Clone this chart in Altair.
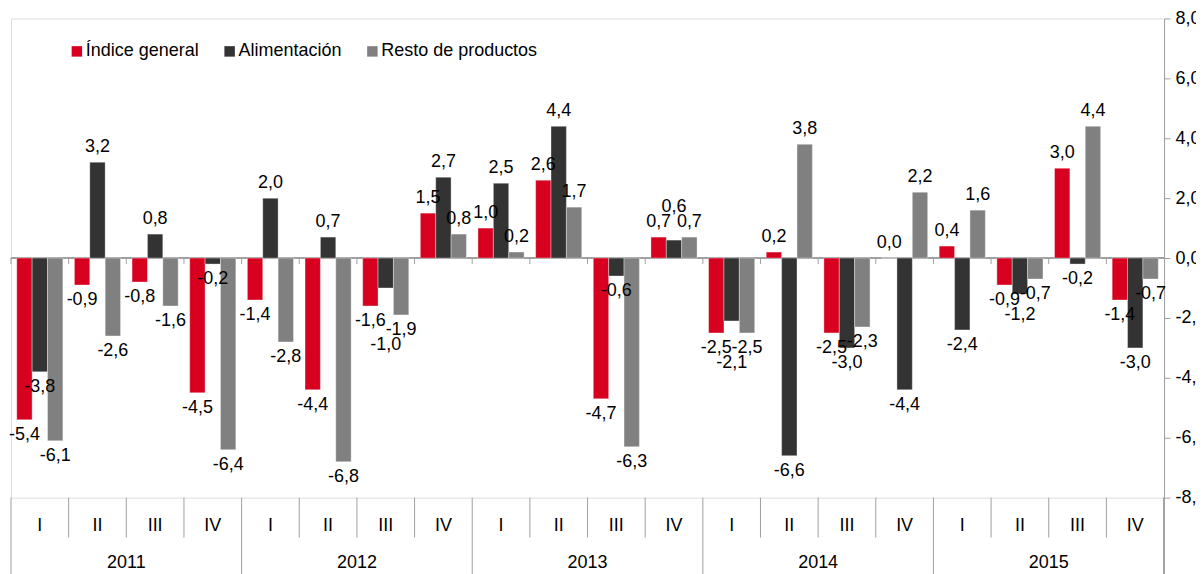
import altair as alt
import pandas as pd

# ---- data -----------------------------------------------------------------
years = ["2011", "2012", "2013", "2014", "2015"]
quarters = ["I", "II", "III", "IV"]
series = ["Índice general", "Alimentación", "Resto de productos"]
colors = ["#D7001E", "#333333", "#808080"]

indice_general = [-5.4, -0.9, -0.8, -4.5,
                  -1.4, -4.4, -1.6, 1.5,
                  1.0, 2.6, -4.7, 0.7,
                  -2.5, 0.2, -2.5, 0.0,
                  0.4, -0.9, 3.0, -1.4]
alimentacion = [-3.8, 3.2, 0.8, -0.2,
                2.0, 0.7, -1.0, 2.7,
                2.5, 4.4, -0.6, 0.6,
                -2.1, -6.6, -3.0, -4.4,
                -2.4, -1.2, -0.2, -3.0]
resto = [-6.1, -2.6, -1.6, -6.4,
         -2.8, -6.8, -1.9, 0.8,
         0.2, 1.7, -6.3, 0.7,
         -2.5, 3.8, -2.3, 2.2,
         1.6, -0.7, 4.4, -0.7]
y_ticks = [-8, -6, -4, -2, 0, 2, 4, 6, 8]

# ---- tables ---------------------------------------------------------------
qids = [f"{y}-{q}" for y in years for q in quarters]
rows = []
for i, qid in enumerate(qids):
    r, a, g = indice_general[i], alimentacion[i], resto[i]
    for s, v in zip(series, [r, a, g]):
        ly = v
        # keep the middle label clear of its neighbours' labels when they are close
        if s == series[1]:
            near = [n for n in (r, g) if abs(n - v) < 1.0 and (n < 0) == (v < 0)]
            if near:
                ly = min([v] + [n - 0.5 for n in near]) if v < 0 else max([v] + [n + 0.5 for n in near])
        rows.append({"qid": qid, "serie": s, "v": v, "ly": ly})
df = pd.DataFrame(rows)

qdf = pd.DataFrame({
    "qid": qids,
    "q": [q for _ in years for q in quarters],
    "ystart": [q == "I" for _ in years for q in quarters],
})
ydf = pd.DataFrame({"year": years, "mid": [f"{y}-III" for y in years]})

FONT = "Liberation Sans"
FS = 18
LINE = "#A0A0A0"
W, H = 1155, 480

xscale = alt.Scale(domain=qids, paddingInner=0, paddingOuter=0)
yscale = alt.Scale(domain=[-8, 8], nice=False)
lab_expr = "(datum.v < 0 ? '-' : '') + replace(format(abs(datum.v), '.1f'), '.', ',')"

x_enc = alt.X("qid:N", scale=xscale, axis=None)
xoff = alt.XOffset("serie:N", scale=alt.Scale(domain=series, paddingInner=0, paddingOuter=0.375))

zero_line = alt.Chart(df).mark_rule(color=LINE, strokeWidth=1).encode(y=alt.datum(0, scale=yscale))

zero_ticks = alt.Chart(qdf).mark_rule(color=LINE, strokeWidth=1).encode(
    x=alt.X("qid:N", scale=xscale, axis=None, bandPosition=0),
    y=alt.datum(0, scale=yscale),
    y2=alt.value(H / 2 + 6),
)

bars = alt.Chart(df).mark_bar(stroke="#FFFFFF", strokeWidth=0.6, strokeOpacity=0.6).encode(
    x=x_enc,
    xOffset=xoff,
    y=alt.Y("v:Q", scale=yscale,
            axis=alt.Axis(orient="right", values=y_ticks, title=None, grid=False,
                          domainColor=LINE, tickColor=LINE, tickSize=6, labelPadding=5,
                          labelFont=FONT, labelFontSize=FS, labelColor="#000000",
                          labelExpr="(datum.value < 0 ? '-' : '') + replace(format(abs(datum.value), '.1f'), '.', ',')")),
    color=alt.Color("serie:N", scale=alt.Scale(domain=series, range=colors),
                    legend=alt.Legend(orient="none", legendX=57, legendY=24, direction="horizontal",
                                      title=None, symbolType="square", symbolSize=110,
                                      symbolStrokeWidth=0, labelFont=FONT, labelFontSize=FS,
                                      labelColor="#000000", labelOffset=0, columnPadding=21,
                                      labelLimit=400, padding=0)),
)

lab_base = alt.Chart(df).transform_calculate(lab=lab_expr)
labels_pos = lab_base.transform_filter("datum.v >= 0").mark_text(
    font=FONT, fontSize=FS, color="#000000", baseline="alphabetic", dy=-10
).encode(x=x_enc, xOffset=xoff, y=alt.Y("ly:Q", scale=yscale), text="lab:N")
labels_neg = lab_base.transform_filter("datum.v < 0").mark_text(
    font=FONT, fontSize=FS, color="#000000", baseline="alphabetic", dy=20
).encode(x=x_enc, xOffset=xoff, y=alt.Y("ly:Q", scale=yscale), text="lab:N")

q_sep = alt.Chart(qdf).transform_filter("!datum.ystart").mark_rule(color=LINE).encode(
    x=alt.X("qid:N", scale=xscale, axis=None, bandPosition=0),
    y=alt.value(H), y2=alt.value(H + 40),
)
y_sep = alt.Chart(qdf).transform_filter("datum.ystart").mark_rule(color=LINE).encode(
    x=alt.X("qid:N", scale=xscale, axis=None, bandPosition=0),
    y=alt.value(H), y2=alt.value(H + 90),
)
right_edge = alt.Chart(ydf).mark_rule(color=LINE).encode(
    x=alt.value(W), y=alt.value(H), y2=alt.value(H + 90)
)
q_text = alt.Chart(qdf).mark_text(font=FONT, fontSize=FS, color="#000000", baseline="middle").encode(
    x=alt.X("qid:N", scale=xscale, axis=None), y=alt.value(H + 28), text="q:N"
)
y_text = alt.Chart(ydf).mark_text(font=FONT, fontSize=FS, color="#000000", baseline="middle").encode(
    x=alt.X("mid:N", scale=xscale, axis=None, bandPosition=0), y=alt.value(H + 65), text="year:N"
)

chart = alt.layer(
    zero_line, zero_ticks, bars, labels_pos, labels_neg,
    q_sep, y_sep, right_edge, q_text, y_text,
).properties(
    width=W, height=H,
    autosize=alt.AutoSizeParams(type="none"),
    padding={"left": 3, "top": 10, "right": 32, "bottom": 76},
).configure_view(stroke=LINE, strokeWidth=1).configure(background="white")

chart.save("out.html", embed_options={"renderer": "svg", "actions": False})
